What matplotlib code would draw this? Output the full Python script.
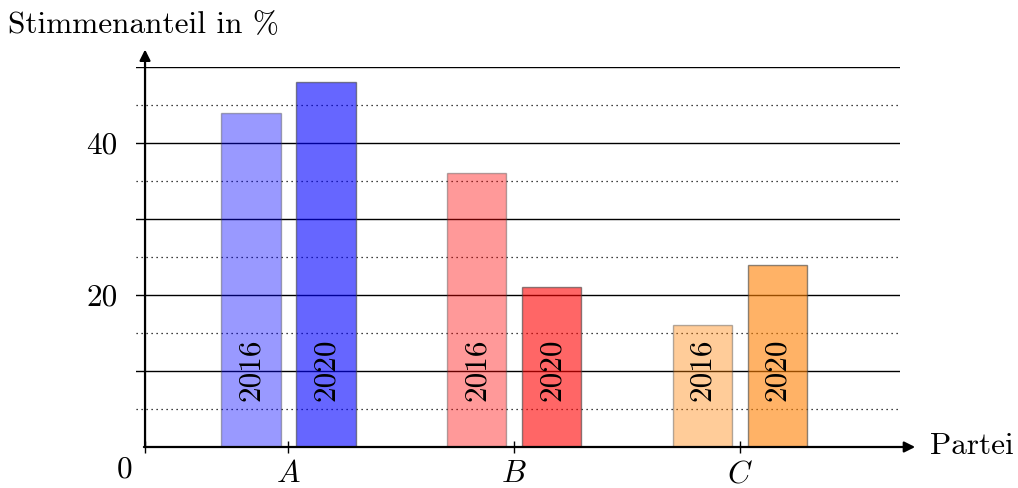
import matplotlib
matplotlib.use("Agg")
import matplotlib.pyplot as plt
import numpy as np

plt.rcParams["font.family"] = "cmr10"
plt.rcParams["mathtext.fontset"] = "cm"
plt.rcParams["axes.formatter.use_mathtext"] = True

# data
parties = ["A", "B", "C"]
years = ["2016", "2020"]
votes_2016 = [44, 36, 16]
votes_2020 = [48, 21, 24]
party_colors = [(0, 0, 1), (1, 0, 0), (1, 0.5, 0)]
y_ticks = [20, 40]

x = np.arange(1, len(parties) + 1)
x0 = 0.367
bar_w = 0.265
offset = 0.166
fs = 22.5

fig = plt.figure(figsize=(10.18, 4.88), dpi=100)
ax = fig.add_axes([136 / 1018, 41 / 488, 764 / 1018, 380 / 488])
ax.set_xlim(0.327, 3.708)
ax.set_ylim(0, 50)

# grid lines
for v in range(10, 51, 10):
    ax.axhline(v, color="black", lw=1.0, zorder=1)
for v in range(5, 50, 10):
    ax.axhline(v, color="black", lw=0.9, ls=(0, (1, 3)), zorder=1)

for i in range(len(parties)):
    c = party_colors[i]
    ax.bar(x[i] - offset, votes_2016[i], width=bar_w, facecolor=c,
           edgecolor=(0.25, 0.25, 0.25), lw=1.0, alpha=0.4, zorder=2)
    ax.bar(x[i] + offset, votes_2020[i], width=bar_w, facecolor=c,
           edgecolor=(0.25, 0.25, 0.25), lw=1.0, alpha=0.6, zorder=2)
    ax.text(x[i] - offset, 6, years[0], rotation=90, ha="center", va="bottom",
            fontsize=fs, zorder=3)
    ax.text(x[i] + offset, 6, years[1], rotation=90, ha="center", va="bottom",
            fontsize=fs, zorder=3)

for s in ax.spines.values():
    s.set_visible(False)
ax.spines["left"].set_position(("data", x0))
ax.spines["bottom"].set_position(("data", 0))

ax.set_xticks(list(x) + [x0])
ax.set_xticklabels(["$" + p + "$" for p in parties] + [""], fontsize=fs)
ax.tick_params(axis="x", direction="inout", length=9, width=1.0, pad=5)
ax.set_yticks(y_ticks)
ax.set_yticklabels([str(v) for v in y_ticks], fontsize=fs)
ax.tick_params(axis="y", length=0, pad=20)

# axis arrows
ax.annotate("", xy=(x0, 52.3), xytext=(x0, 0), annotation_clip=False,
            arrowprops=dict(arrowstyle="-|>", color="black", lw=1.6,
                            mutation_scale=16, shrinkA=0, shrinkB=0))
ax.annotate("", xy=(3.775, 0), xytext=(x0 - 0.005, 0), annotation_clip=False,
            arrowprops=dict(arrowstyle="-|>", color="black", lw=1.6,
                            mutation_scale=16, shrinkA=0, shrinkB=0))

fig.text(8 / 1018, 1 - 25 / 488, "Stimmenanteil in %", fontsize=fs,
         ha="left", va="center")
fig.text(930 / 1018, 1 - 446 / 488, "Partei", fontsize=fs, ha="left", va="center")
fig.text(125 / 1018, 1 - 470 / 488, "0", fontsize=fs, ha="center", va="center")

fig.savefig("out.png", dpi=100)
